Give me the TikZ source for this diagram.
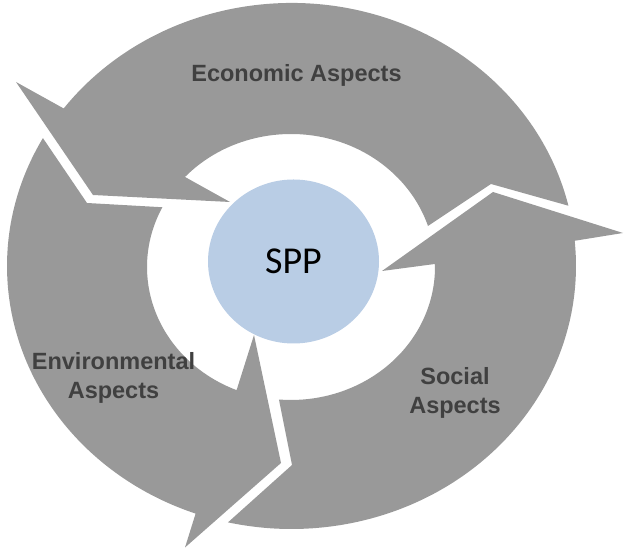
\documentclass[tikz,border=0pt]{standalone}
\usepackage{fontspec}
\setmainfont{Liberation Sans}
\newfontfamily\calibrifont{Carlito}
\usetikzlibrary{calc,shapes.geometric}
\definecolor{arrowgray}{HTML}{999999}
\definecolor{sppblue}{HTML}{B9CDE5}
\definecolor{labelgray}{HTML}{404040}
\begin{document}
\begin{tikzpicture}[x=1pt,y=1pt,
  arrowshape/.style={fill=arrowgray},
  aspect/.style={font=\bfseries\fontsize{23.5}{28.5}\selectfont, text=labelgray, align=center, inner sep=0pt},
  sppcircle/.style={ellipse, fill=sppblue, minimum width=171pt, minimum height=164pt, inner sep=0pt,
    font=\calibrifont\fontsize{38}{40}\selectfont, text=black}]
\useasboundingbox (0,0) rectangle (624,548);
\coordinate (Oo) at (291.5,282);
\coordinate (Oi) at (291,281);
% Economic arrow
\coordinate (ecoTV) at (491,364);
\coordinate (ecoOB) at (16,466);
\coordinate (ecoTip) at (93,353);
\coordinate (ecoIB) at (230,346);
\fill[arrowshape] ($(Oo)+(13.25:284.5pt and 263pt)$)
  arc[start angle=13.25, end angle=143.2, x radius=284.5pt, y radius=263pt]
  -- (ecoOB) -- (ecoTip) -- (ecoIB)
  -- ($(Oi)+(137.4:144pt and 133pt)$)
  arc[start angle=137.4, end angle=17.95, x radius=144pt, y radius=133pt]
  -- (ecoTV) -- cycle;
% Environmental arrow
\coordinate (envTV) at (87,345);
\coordinate (envOB) at (185,0.5);
\coordinate (envTip) at (281,85);
\coordinate (envIB) at (254,213);
\fill[arrowshape] ($(Oo)+(150.9:284.5pt and 263pt)$)
  arc[start angle=150.9, end angle=250.3, x radius=284.5pt, y radius=263pt]
  -- (envOB) -- (envTip) -- (envIB)
  -- ($(Oi)+(247.8:144pt and 133pt)$)
  arc[start angle=247.8, end angle=153.3, x radius=144pt, y radius=133pt]
  -- (envTV) -- cycle;
% Social arrow
\coordinate (socTV) at (292,83);
\coordinate (socOB) at (623,315);
\coordinate (socTip) at (493,356);
\coordinate (socIB) at (382,277);
\fill[arrowshape] ($(Oo)+(257.1:284.5pt and 263pt)$)
  arc[start angle=257.1, end angle=365.5, x radius=284.5pt, y radius=263pt]
  -- (socOB) -- (socTip) -- (socIB)
  -- ($(Oi)+(1.3:144pt and 133pt)$)
  arc[start angle=361.3, end angle=265.2, x radius=144pt, y radius=133pt]
  -- (socTV) -- cycle;
% centre
\node[sppcircle] (spp) at (293.5,286.5) {SPP};
% labels
\node[aspect, anchor=base] (eco) at (296.5,466) {Economic Aspects};
\node[aspect] (env) at (113.5,170) {Environmental\\Aspects};
\node[aspect] (soc) at (455,155.3) {Social\\Aspects};
\end{tikzpicture}
\end{document}
